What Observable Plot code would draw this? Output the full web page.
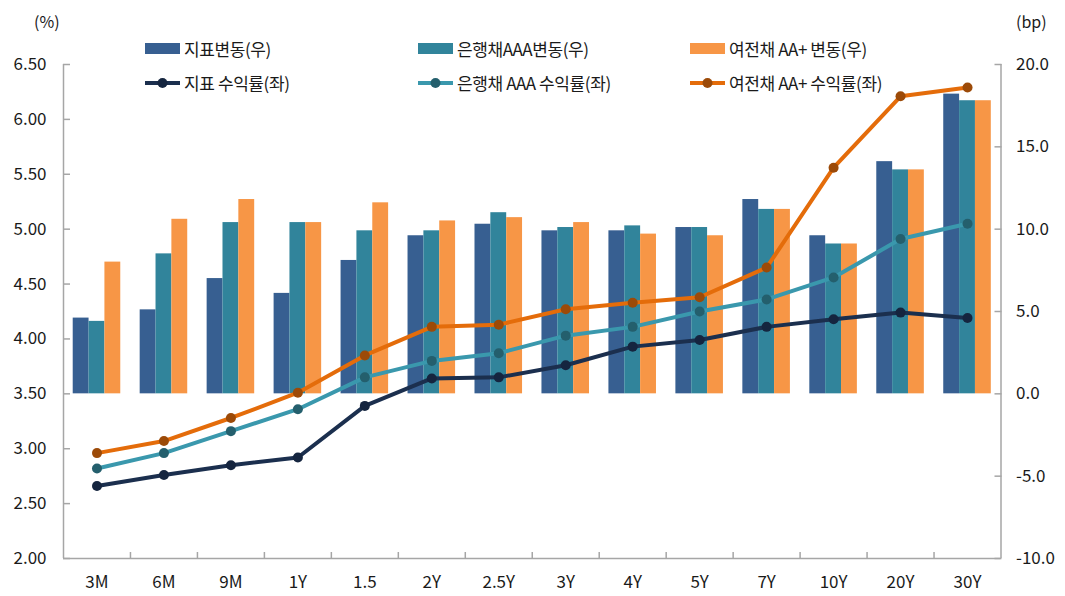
<!DOCTYPE html>
<html><head><meta charset="utf-8">
<script src="https://cdn.jsdelivr.net/npm/d3@7"></script>
<script src="https://cdn.jsdelivr.net/npm/@observablehq/plot@0.6"></script>
<style>
body{margin:0;background:#fff;}
#wrap{position:relative;width:1065px;height:596px;font-family:"Noto Sans CJK KR","Noto Sans",sans-serif;color:#1a1a1a;}
.lg{position:absolute;display:flex;align-items:center;font-size:17px;letter-spacing:-0.4px;white-space:nowrap;line-height:1;}
.sw{display:inline-block;width:35px;height:11px;margin-right:4px;}
.unit{position:absolute;font-size:16px;line-height:1;}
</style></head><body><div id="wrap"></div>
<script>
const categories = ["3M","6M","9M","1Y","1.5","2Y","2.5Y","3Y","4Y","5Y","7Y","10Y","20Y","30Y"];
// changes (bp, right axis)
const chgGov  = [4.6, 5.1, 7.0, 6.1, 8.1, 9.6, 10.3, 9.9, 9.9, 10.1, 11.8, 9.6, 14.1, 18.2];
const chgBank = [4.4, 8.5, 10.4, 10.4, 9.9, 9.9, 11.0, 10.1, 10.2, 10.1, 11.2, 9.1, 13.6, 17.8];
const chgCard = [8.0, 10.6, 11.8, 10.4, 11.6, 10.5, 10.7, 10.4, 9.7, 9.6, 11.2, 9.1, 13.6, 17.8];
// yields (%, left axis)
const yldGov  = [2.66, 2.76, 2.85, 2.92, 3.39, 3.64, 3.65, 3.76, 3.93, 3.99, 4.11, 4.18, 4.24, 4.19];
const yldBank = [2.82, 2.96, 3.16, 3.36, 3.65, 3.80, 3.87, 4.03, 4.11, 4.25, 4.36, 4.56, 4.91, 5.05];
const yldCard = [2.96, 3.07, 3.28, 3.51, 3.85, 4.11, 4.13, 4.27, 4.33, 4.38, 4.65, 5.56, 6.21, 6.29];
const leftTicks = [2.0, 2.5, 3.0, 3.5, 4.0, 4.5, 5.0, 5.5, 6.0, 6.5];
const rightTicks = [-10, -5, 0, 5, 10, 15, 20];
const barNames = ["지표변동(우)", "은행채AAA변동(우)", "여전채 AA+ 변동(우)"];
const lineNames = ["지표 수익률(좌)", "은행채 AAA 수익률(좌)", "여전채 AA+ 수익률(좌)"];

const barColors = ["#375F91", "#31849B", "#F79646"];
const lineColors = ["#1B2F4E", "#3A98AD", "#E46C0A"];
const dotColors = ["#15253F", "#245F6D", "#9C4A08"];

// right axis (bp) mapped onto the left (%) scale: -10bp..20bp <-> 2.0%..6.5%
const toPct = bp => 3.5 + bp * 0.15;
const fromPct = p => (p - 3.5) / 0.15;

const barSeries = [chgGov, chgBank, chgCard];
const lineSeries = [yldGov, yldBank, yldCard];
const groupHalf = 0.355, barW = 0.2367;

const axisColor = "#A6A6A6";
const marks = [];
barSeries.forEach((vals, k) => {
  const data = categories.map((c, i) => ({i, v: vals[i]}));
  marks.push(Plot.rectY(data, {
    x1: d => d.i - groupHalf + k * barW,
    x2: d => d.i - groupHalf + (k + 1) * barW,
    y1: d => toPct(0),
    y2: d => toPct(d.v),
    fill: barColors[k]
  }));
});
lineSeries.forEach((vals, k) => {
  const data = categories.map((c, i) => ({i, v: vals[i]}));
  marks.push(Plot.line(data, {x: "i", y: "v", stroke: lineColors[k], strokeWidth: 4, strokeLinejoin: "round"}));
  marks.push(Plot.dot(data, {x: "i", y: "v", r: 5, fill: dotColors[k], stroke: "none"}));
});
const boundaries = categories.slice(1).map((c, i) => i + 0.5);
marks.push(
  Plot.ruleX([-0.5, 13.5], {stroke: axisColor, strokeWidth: 1.5}),
  Plot.ruleY([2], {stroke: axisColor, strokeWidth: 1.5}),
  // left axis ticks (inward) and labels
  Plot.axisY(leftTicks, {anchor: "left", tickSize: 7, dx: 7, fill: "none", stroke: axisColor, strokeWidth: 1.5, label: null}),
  Plot.axisY(leftTicks, {anchor: "left", tickSize: 0, tickPadding: 17, tickFormat: d3.format(".2f"), label: null}),
  // right axis ticks (inward) and labels
  Plot.axisY(rightTicks.map(toPct), {anchor: "right", tickSize: 7, dx: -7, fill: "none", stroke: axisColor, strokeWidth: 1.5, label: null}),
  Plot.axisY(rightTicks.map(toPct), {anchor: "right", tickSize: 0, tickPadding: 15, tickFormat: p => fromPct(p).toFixed(1), label: null}),
  // bottom axis
  Plot.axisX(boundaries, {anchor: "bottom", tickSize: 6, dy: -6, fill: "none", stroke: axisColor, strokeWidth: 1.5, label: null}),
  Plot.axisX(categories.map((c, i) => i), {anchor: "bottom", tickSize: 0, tickPadding: 17, tickFormat: i => categories[i], label: null})
);

const chart = Plot.plot({
  width: 1065, height: 596,
  marginLeft: 63, marginRight: 64.5, marginTop: 64, marginBottom: 38,
  style: {fontSize: "17px", fontFamily: "'Noto Sans CJK KR','Noto Sans',sans-serif", color: "#1a1a1a", background: "#fff"},
  x: {type: "linear", domain: [-0.5, 13.5], axis: null},
  y: {domain: [2, 6.5], axis: null},
  marks
});
const wrap = document.getElementById("wrap");
wrap.appendChild(chart);

// units
const u1 = document.createElement("div"); u1.className = "unit"; u1.textContent = "(%)";
u1.style.left = "34px"; u1.style.top = "13px"; wrap.appendChild(u1);
const u2 = document.createElement("div"); u2.className = "unit"; u2.textContent = "(bp)";
u2.style.left = "1016px"; u2.style.top = "13px"; wrap.appendChild(u2);

// legend
const cols = [145, 418, 690];
barNames.forEach((n, k) => {
  const d = document.createElement("div"); d.className = "lg";
  d.style.left = cols[k] + "px"; d.style.top = "40px";
  d.innerHTML = `<span class="sw" style="background:${barColors[k]}"></span><span>${n}</span>`;
  wrap.appendChild(d);
});
lineNames.forEach((n, k) => {
  const d = document.createElement("div"); d.className = "lg";
  d.style.left = cols[k] + "px"; d.style.top = "74px";
  d.innerHTML = `<svg width="39" height="14" style="margin-right:0px"><line x1="0" x2="35" y1="7" y2="7" stroke="${lineColors[k]}" stroke-width="4"/><circle cx="17.5" cy="7" r="5" fill="${dotColors[k]}"/></svg><span>${n}</span>`;
  wrap.appendChild(d);
});
</script></body></html>
